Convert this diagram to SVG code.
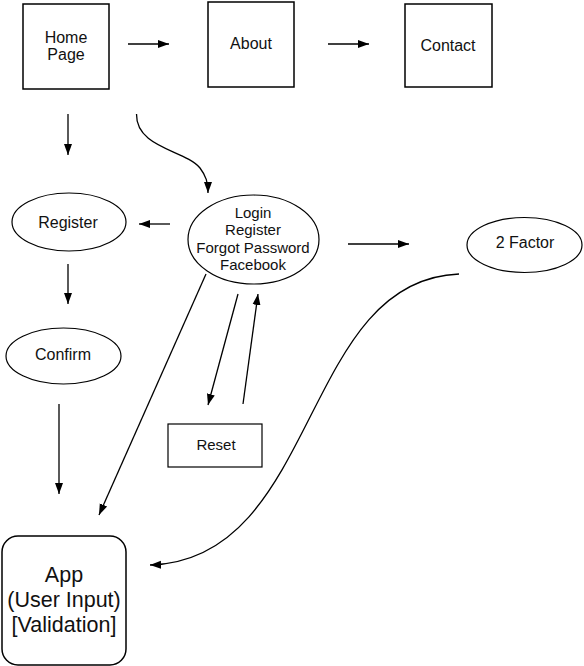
<svg xmlns="http://www.w3.org/2000/svg" width="584" height="666" viewBox="0 0 584 666">
<style>
.box{fill:#fff;stroke:#000;stroke-width:1.5}
.thin{fill:#fff;stroke:#000;stroke-width:1.2}
.c{fill:none;stroke:#000;stroke-width:1.3}
text{font-family:"Liberation Sans",Arial,sans-serif;font-size:16px;fill:#111;text-anchor:middle}
.m{font-size:15px}
.big{font-size:21.5px}
</style>
<defs>
<marker id="ah" markerUnits="userSpaceOnUse" markerWidth="12" markerHeight="10" viewBox="0 0 12 10" refX="11" refY="5" orient="auto">
<path d="M0,1 L11,5 L0,9 Z" fill="#000"/>
</marker>
</defs>
<rect width="584" height="666" fill="#fff"/>
<g id="home"><rect class="box" x="23" y="4" width="86" height="85"/><text x="66" y="43">Home</text><text x="66" y="60">Page</text></g>
<g id="about"><rect class="box" x="208" y="2" width="86" height="85"/><text x="251" y="49">About</text></g>
<g id="contact"><rect class="box" x="405" y="4" width="87" height="83"/><text x="448" y="51">Contact</text></g>
<g id="register"><ellipse class="thin" cx="69" cy="222" rx="57" ry="29"/><text x="68" y="228">Register</text></g>
<g id="login"><ellipse class="thin" cx="253.5" cy="239.5" rx="65.5" ry="44.5"/><text class="m" x="253" y="218">Login</text><text class="m" x="253" y="235">Register</text><text class="m" x="253" y="253">Forgot Password</text><text class="m" x="253" y="270">Facebook</text></g>
<g id="twofactor"><ellipse class="thin" cx="524.5" cy="245" rx="57.5" ry="27.5"/><text x="525" y="248">2 Factor</text></g>
<g id="confirm"><ellipse class="thin" cx="63.5" cy="356" rx="57.5" ry="28"/><text x="63" y="360">Confirm</text></g>
<g id="reset"><rect class="thin" x="168" y="424" width="94" height="43"/><text class="m" x="216" y="450">Reset</text></g>
<g id="app"><rect class="box" x="2" y="536" width="124" height="129" rx="16"/><text class="big" x="64" y="582">App</text><text class="big" x="64" y="607">(User Input)</text><text class="big" x="64" y="632">[Validation]</text></g>
<g id="connectors">
<path class="c" d="M128,44 L169,44" marker-end="url(#ah)"/>
<path class="c" d="M328,44 L369,44" marker-end="url(#ah)"/>
<path class="c" d="M68,114 L68,155" marker-end="url(#ah)"/>
<path class="c" d="M136.5,114 C 136,148 185,150 200,168 C 206,176 208,182 208,193" marker-end="url(#ah)"/>
<path class="c" d="M170,224 L139,224" marker-end="url(#ah)"/>
<path class="c" d="M348,244 L409,244" marker-end="url(#ah)"/>
<path class="c" d="M68,264 L68,304" marker-end="url(#ah)"/>
<path class="c" d="M206,274 L99,515" marker-end="url(#ah)"/>
<path class="c" d="M238,294 L208,405" marker-end="url(#ah)"/>
<path class="c" d="M243,404 L258,294" marker-end="url(#ah)"/>
<path class="c" d="M59,404 L59,494" marker-end="url(#ah)"/>
<path class="c" d="M459,274 C 300,280 320,560 150,565" marker-end="url(#ah)"/>
</g>
</svg>
